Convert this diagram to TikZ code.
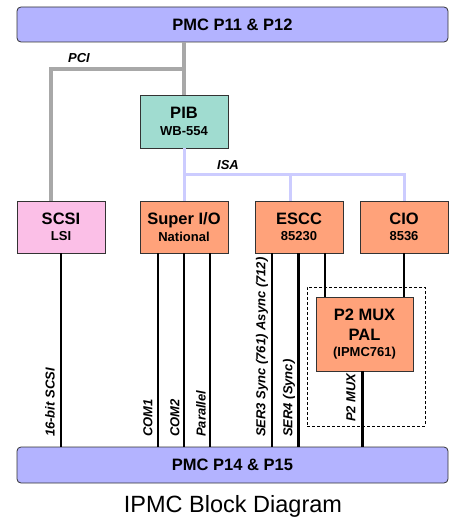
\documentclass[tikz,border=0pt]{standalone}
\usepackage{fontspec}
\setmainfont{Liberation Sans}
\definecolor{barblue}{HTML}{B3B3FF}
\definecolor{pibteal}{HTML}{A0DCD0}
\definecolor{scsipink}{HTML}{FBBFE7}
\definecolor{chiporange}{HTML}{FFA27A}
\definecolor{pcigray}{HTML}{A8A8A8}
\definecolor{isablue}{HTML}{CCCCFF}
\newcommand{\chiptitle}[1]{\fontsize{16.5}{16.5}\selectfont #1}
\newcommand{\chipsub}[1]{\fontsize{13}{16.5}\selectfont #1}
\begin{document}
\begin{tikzpicture}[x=1pt,y=-1pt,
  bar/.style={draw=black!80,line width=0.8pt,fill=barblue,rounded corners=4pt,
    minimum width=431pt,minimum height=35pt,inner sep=0pt,
    font=\fontsize{16.5}{17}\selectfont\bfseries},
  chip/.style={draw=black!80,line width=0.8pt,minimum width=88pt,minimum height=53pt,
    inner sep=0pt,align=center,font=\fontsize{13}{16.5}\selectfont\bfseries},
  pci/.style={pcigray,line width=4pt},
  isa/.style={isablue,line width=3pt},
  sig/.style={black,line width=1.5pt},
  sigthick/.style={black,line width=3pt},
  lbl/.style={font=\fontsize{13}{15}\selectfont\bfseries\itshape,inner sep=0pt},
  vlbl/.style={lbl,rotate=90,anchor=west}
]
\useasboundingbox (0,0) rectangle (450,519);

\node[bar] (top) at (232.5,24.5) {PMC P11 \& P12};
\node[bar,minimum height=36pt] (bot) at (232.5,465) {PMC P14 \& P15};

\node[chip,fill=pibteal] (pib) at (184,121.5) {\chiptitle{PIB}\\\chipsub{WB-554}};
\node[chip,fill=scsipink,minimum height=52pt] (scsi) at (61,227) {\chiptitle{SCSI}\\\chipsub{LSI}};
\node[chip,fill=chiporange,minimum height=52pt] (sio) at (184,227) {\chiptitle{Super I/O}\\\chipsub{National}};
\node[chip,fill=chiporange,minimum height=52pt] (escc) at (299,227) {\chiptitle{ESCC}\\\chipsub{85230}};
\node[chip,fill=chiporange,minimum height=52pt] (cio) at (404,227) {\chiptitle{CIO}\\\chipsub{8536}};
\node[chip,fill=chiporange,minimum width=97pt,minimum height=74pt,
  font=\fontsize{13}{18}\selectfont\bfseries] (mux) at (364.5,334)
  {\fontsize{16.5}{18}\selectfont P2 MUX\\[2pt]\fontsize{16.5}{18}\selectfont PAL\\[-2pt]\fontsize{13}{18}\selectfont (IPMC761)};

\node[draw=black,line width=0.8pt,dash pattern=on 3pt off 2pt,inner sep=0pt,
  minimum width=118pt,minimum height=139pt] (grp) at (366,356.5) {};

% PCI bus
\coordinate (pcij) at (184,69);
\coordinate (pcil) at (51,69);
\draw[pci] (pib.north |- top.south) -- (pib.north);
\draw[pci] (pcij) -- (pcil) -- (pcil |- scsi.north);
\node[lbl] (pcitxt) at (79,58) {PCI};

% ISA bus
\coordinate (isaj) at (184,174);
\coordinate (isam) at (290,174);
\draw[isa] (pib.south) -- (sio.north);
\draw[isa] (isaj) -| (cio.north);
\draw[isa] (isam) -- (isam |- escc.north);
\node[lbl] (isatxt) at (228,165) {ISA};

% signals
\draw[sig] (scsi.south) -- (scsi.south |- bot.north);
\draw[sig] ([xshift=-26pt]sio.south) -- ([xshift=-26pt]sio.south |- bot.north);
\draw[sig] (sio.south) -- (sio.south |- bot.north);
\draw[sig] ([xshift=26pt]sio.south) -- ([xshift=26pt]sio.south |- bot.north);
\draw[sig] ([xshift=-27pt]escc.south) -- ([xshift=-27pt]escc.south |- bot.north);
\draw[sigthick] ([xshift=-1pt]escc.south) -- ([xshift=-1pt]escc.south |- bot.north);
\draw[sig] ([xshift=26pt]escc.south) -- ([xshift=26pt]escc.south |- mux.north);
\draw[sig] (cio.south) -- (cio.south |- mux.north);
\draw[sigthick] ([xshift=-2.5pt]mux.south) -- ([xshift=-2.5pt]mux.south |- bot.north);

% labels
\node[vlbl] (l1) at (50,437) {16-bit SCSI};
\node[vlbl] (l2) at (148,437) {COM1};
\node[vlbl] (l3) at (175,437) {COM2};
\node[vlbl] (l4) at (201,437) {Parallel};
\node[vlbl] (l5) at (262,437) {SER3 Sync (761) Async (712)};
\node[vlbl] (l6) at (289,437) {SER4 (Sync)};
\node[vlbl] (l7) at (351,422) {P2 MUX};

\node[font=\fontsize{23.5}{25}\selectfont,inner sep=0pt] (title) at (233,506) {IPMC Block Diagram};
\end{tikzpicture}
\end{document}
